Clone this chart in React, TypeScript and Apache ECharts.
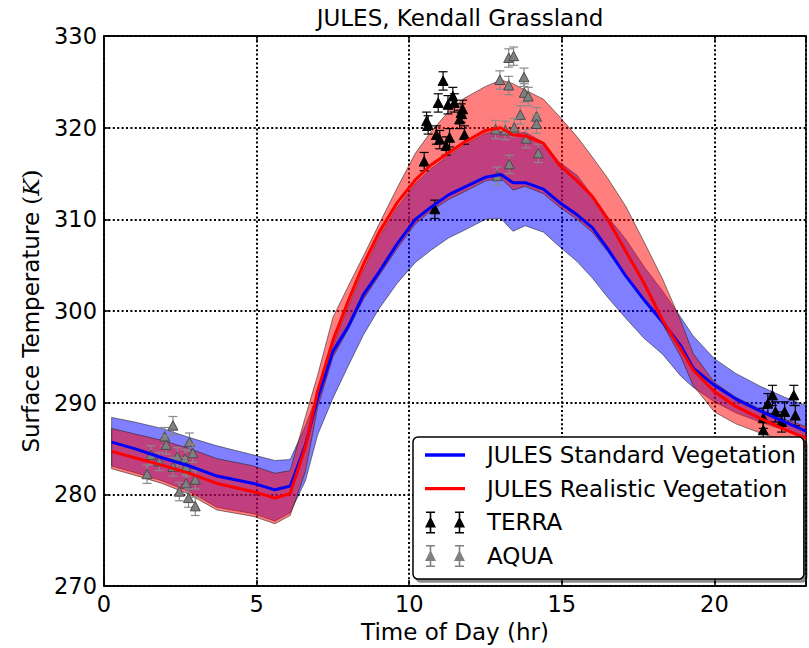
import React, { useEffect, useRef } from "react";
import * as echarts from "echarts";

// ---------- data ----------
const hours = [0.25, 1.0, 1.9, 2.8, 3.7, 4.9, 5.6, 6.1, 6.6, 7.0, 7.5, 8.0, 8.5, 9.0, 9.6, 10.2, 10.7, 11.3, 11.8, 12.5, 13.0, 13.4, 13.8, 14.4, 14.9, 15.5, 16.0, 16.5, 17.1, 17.7, 18.3, 18.9, 19.3, 20.0, 20.7, 21.5, 22.3, 23.0];

const standardMean = [285.7, 285.0, 284.0, 283.1, 282.0, 281.2, 280.5, 280.9, 285.4, 290.5, 295.6, 298.3, 301.8, 304.2, 307.3, 310.0, 311.3, 312.7, 313.5, 314.6, 314.9, 314.0, 314.0, 313.3, 311.9, 310.5, 309.1, 306.8, 303.8, 301.2, 298.8, 296.2, 293.8, 291.9, 290.4, 289.1, 287.9, 286.9];
const standardHigh = [288.4, 287.9, 287.2, 286.2, 285.3, 284.3, 283.7, 283.8, 287.5, 291.0, 296.2, 300.5, 304.5, 308.0, 311.3, 313.9, 315.5, 317.0, 318.1, 319.4, 319.6, 319.3, 319.5, 318.4, 316.3, 314.8, 312.6, 310.3, 307.8, 304.8, 302.2, 299.3, 297.3, 294.8, 293.2, 291.8, 290.6, 289.7];
const standardLow = [283.1, 282.4, 281.5, 280.3, 278.6, 277.9, 277.1, 278.0, 281.5, 286.5, 290.5, 294.0, 297.4, 300.2, 303.0, 305.3, 306.6, 308.0, 308.8, 310.0, 310.1, 308.7, 309.3, 308.6, 307.1, 305.4, 303.6, 301.5, 299.2, 297.0, 295.3, 292.9, 291.7, 290.1, 288.9, 287.9, 287.0, 286.3];

const realisticMean = [284.7, 284.0, 283.2, 282.3, 281.2, 280.3, 279.6, 280.1, 285.2, 291.3, 296.8, 301.1, 305.1, 308.5, 311.8, 314.3, 315.9, 317.3, 318.4, 319.7, 320.0, 319.2, 319.1, 318.3, 316.0, 314.2, 312.5, 310.0, 306.5, 303.0, 299.0, 295.8, 293.6, 291.2, 289.6, 288.3, 287.1, 286.1];
const realisticHigh = [287.2, 286.6, 285.9, 285.0, 283.9, 283.1, 282.3, 282.6, 288.5, 293.0, 299.3, 302.7, 306.0, 309.4, 313.4, 317.2, 319.5, 321.8, 323.2, 324.5, 325.2, 324.8, 324.1, 323.1, 321.3, 319.0, 316.8, 314.5, 311.4, 307.5, 303.5, 298.9, 295.4, 292.2, 290.6, 289.3, 288.2, 287.4];
const realisticLow = [282.8, 282.1, 281.2, 280.0, 278.3, 277.6, 276.8, 277.7, 282.5, 289.5, 295.0, 298.0, 301.3, 303.8, 306.8, 309.5, 310.9, 312.2, 313.0, 314.2, 314.5, 313.2, 313.6, 312.8, 311.4, 310.0, 308.6, 306.5, 303.8, 301.0, 298.6, 295.0, 291.9, 289.0, 287.7, 286.7, 285.8, 285.1];

const terraHour = [11.11, 10.95, 11.27, 11.43, 11.48, 11.70, 11.75, 11.65, 10.57, 10.62, 10.89, 11.00, 11.32, 11.21, 11.81, 10.49, 10.84, 21.90, 21.75, 22.00, 21.60, 22.30, 22.60, 21.60, 22.20, 22.65];
const terraTemp = [325.1, 322.7, 322.5, 323.4, 322.7, 321.6, 322.0, 320.9, 320.7, 320.3, 319.2, 318.7, 318.9, 318.0, 319.2, 316.3, 311.1, 290.8, 289.9, 289.0, 288.3, 289.0, 290.8, 287.0, 287.9, 288.6];
const terraErr = [1.0, 1.0, 1.0, 1.0, 1.0, 1.0, 1.0, 1.0, 1.0, 1.0, 1.0, 1.0, 1.0, 1.0, 1.0, 1.0, 1.0, 1.1, 1.1, 1.1, 1.1, 1.1, 1.1, 1.1, 1.1, 1.1];

const aquaHour = [1.41, 1.54, 1.81, 1.99, 2.04, 2.26, 2.40, 2.26, 2.47, 2.65, 2.69, 2.80, 2.69, 2.91, 2.77, 2.99, 2.99, 13.26, 13.42, 12.97, 13.26, 13.76, 13.77, 13.90, 13.64, 14.17, 14.17, 12.83, 13.15, 13.44, 13.83, 14.23, 13.28, 12.88];
const aquaTemp = [282.2, 284.3, 283.6, 286.3, 285.4, 287.5, 284.1, 283.0, 280.3, 283.9, 283.0, 285.7, 281.2, 284.5, 279.6, 281.6, 278.7, 327.6, 327.8, 325.2, 324.6, 325.5, 323.8, 323.4, 321.4, 321.2, 320.4, 319.8, 319.7, 320.0, 318.8, 317.2, 316.0, 314.7];
const aquaErr = [1.0, 1.0, 1.0, 1.0, 1.0, 1.0, 1.0, 1.0, 1.0, 1.0, 1.0, 1.0, 1.0, 1.0, 1.0, 1.0, 1.0, 1.0, 1.0, 1.0, 1.0, 1.0, 1.0, 1.0, 1.0, 1.0, 1.0, 1.0, 1.0, 1.0, 1.0, 1.0, 1.0, 1.0];

const xRange = [0, 23];
const xStep = 5;
const yRange = [270, 330];
const yStep = 10;

const titleText = "JULES, Kendall Grassland";
const xName = "Time of Day (hr)";
const nameStandard = "JULES Standard Vegetation";
const nameRealistic = "JULES Realistic Vegetation";
const nameTerra = "TERRA";
const nameAqua = "AQUA";

// ---------- helpers ----------
const FONT = "DejaVu Sans";

function errIconPath(): string {
  const one = (cx: number) =>
    `M${cx - 0.8},0 L${cx + 0.8},0 L${cx + 0.8},22 L${cx - 0.8},22 Z ` +
    `M${cx - 4.5},0 L${cx + 4.5},0 L${cx + 4.5},1.5 L${cx - 4.5},1.5 Z ` +
    `M${cx - 4.5},20.5 L${cx + 4.5},20.5 L${cx + 4.5},22 L${cx - 4.5},22 Z ` +
    `M${cx},5 L${cx + 5.5},16 L${cx - 5.5},16 Z `;
  return "path://" + one(5.5) + one(34.5);
}

const lineIconPath = "path://M0,0 L36,0 L36,3 L0,3 Z";

function bandSeries(name: string, lo: number[], hi: number[], fill: string) {
  return {
    type: "custom",
    name,
    silent: true,
    coordinateSystem: "cartesian2d",
    data: [[hours[0], lo[0]]],
    encode: { x: 0, y: 1 },
    renderItem: (_p: any, api: any) => {
      const pts: number[][] = [];
      for (let i = 0; i < hours.length; i++) pts.push(api.coord([hours[i], hi[i]]));
      for (let i = hours.length - 1; i >= 0; i--) pts.push(api.coord([hours[i], lo[i]]));
      return {
        type: "polygon",
        shape: { points: pts },
        style: { fill, stroke: "rgba(30,30,30,0.55)", lineWidth: 1 },
      };
    },
  };
}

function obsSeries(name: string, hs: number[], vs: number[], es: number[], fill: string, edge: string, bar: string) {
  return {
    type: "custom",
    name,
    coordinateSystem: "cartesian2d",
    data: hs.map((h, i) => [h, vs[i], es[i]]),
    encode: { x: 0, y: 1 },
    itemStyle: { color: fill },
    renderItem: (_p: any, api: any) => {
      const t = api.value(0);
      const v = api.value(1);
      const e = api.value(2);
      const c = api.coord([t, v]);
      const top = api.coord([t, v + e]);
      const bot = api.coord([t, v - e]);
      const x = c[0];
      const y = c[1];
      return {
        type: "group",
        children: [
          { type: "line", shape: { x1: x, y1: top[1], x2: x, y2: bot[1] }, style: { stroke: bar, lineWidth: 1.2 } },
          { type: "line", shape: { x1: x - 4.5, y1: top[1], x2: x + 4.5, y2: top[1] }, style: { stroke: bar, lineWidth: 1.2 } },
          { type: "line", shape: { x1: x - 4.5, y1: bot[1], x2: x + 4.5, y2: bot[1] }, style: { stroke: bar, lineWidth: 1.2 } },
          {
            type: "polygon",
            shape: { points: [[x, y - 5], [x + 5, y + 4.5], [x - 5, y + 4.5]] },
            style: { fill, stroke: edge, lineWidth: 1 },
          },
        ],
      };
    },
  };
}

export default function App() {
  const ref = useRef<HTMLDivElement>(null);

  useEffect(() => {
    if (!ref.current) return;
    const chart = echarts.init(ref.current, undefined, { renderer: "svg" });
    const gridLine = { show: true, lineStyle: { color: "#000", width: 2, type: [2, 2.4] } };
    const option: any = {
      animation: false,
      backgroundColor: "#fff",
      title: {
        text: titleText,
        left: 460,
        top: 6,
        textAlign: "center",
        padding: 0,
        textStyle: { fontFamily: FONT, fontSize: 23, fontWeight: "normal", color: "#000" },
      },
      grid: {
        left: 104,
        right: -7,
        top: 36,
        bottom: 60,
        show: true,
        borderColor: "#000",
        borderWidth: 1.5,
        backgroundColor: "transparent",
      },
      legend: {
        orient: "vertical",
        left: 413,
        top: 437,
        padding: [6, 8, 11, 12],
        itemWidth: 40,
        itemHeight: 22,
        itemGap: 9.7,
        backgroundColor: "#fff",
        borderColor: "#000",
        borderWidth: 1.5,
        borderRadius: 5,
        shadowColor: "rgba(0,0,0,0.45)",
        shadowOffsetX: 3,
        shadowOffsetY: 3,
        shadowBlur: 0,
        textStyle: { fontFamily: FONT, fontSize: 23, color: "#000", lineHeight: 24, padding: [0, 0, 0, 17] },
        data: [
          { name: nameStandard, icon: lineIconPath },
          { name: nameRealistic, icon: lineIconPath },
          { name: nameTerra, icon: errIconPath() },
          { name: nameAqua, icon: errIconPath() },
        ],
      },
      xAxis: [
        {
          type: "value",
          min: xRange[0],
          max: xRange[1],
          interval: xStep,
          name: xName,
          nameLocation: "middle",
          nameGap: 31,
          nameTextStyle: { fontFamily: FONT, fontSize: 23, color: "#000" },
          axisLine: { show: true, lineStyle: { color: "#000", width: 1.5 } },
          axisTick: { show: true, inside: true, length: 6, lineStyle: { color: "#000", width: 1.5 } },
          axisLabel: {
            fontFamily: FONT,
            fontSize: 22.5,
            color: "#000",
            margin: 6,
            formatter: (v: number) => (v % xStep === 0 ? String(v) : ""),
          },
          splitLine: gridLine,
        },
        {
          type: "value",
          position: "top",
          min: xRange[0],
          max: xRange[1],
          interval: xStep,
          axisLine: { show: true, lineStyle: { color: "#000", width: 1.5 } },
          axisTick: { show: true, inside: true, length: 6, lineStyle: { color: "#000", width: 1.5 } },
          axisLabel: { show: false },
          splitLine: { show: false },
        },
      ],
      yAxis: {
        type: "value",
        min: yRange[0],
        max: yRange[1],
        interval: yStep,
        name: "Surface Temperature {p|(}{k|K}{p|)}",
        nameLocation: "middle",
        nameGap: 62,
        nameRotate: 90,
        nameTextStyle: {
          fontFamily: FONT,
          fontSize: 23,
          color: "#000",
          rich: {
            p: { fontFamily: "DejaVu Serif", fontSize: 23, color: "#000" },
            k: { fontFamily: "DejaVu Serif", fontStyle: "italic", fontSize: 23, color: "#000" },
          },
        },
        axisLine: { show: true, lineStyle: { color: "#000", width: 1.5 } },
        axisTick: { show: true, inside: true, length: 6, lineStyle: { color: "#000", width: 1.5 } },
        axisLabel: { fontFamily: FONT, fontSize: 22.5, color: "#000", margin: 7 },
        splitLine: gridLine,
      },
      series: [
        bandSeries("standardBand", standardLow, standardHigh, "rgba(0,0,255,0.5)"),
        bandSeries("realisticBand", realisticLow, realisticHigh, "rgba(255,0,0,0.5)"),
        {
          type: "line",
          name: nameStandard,
          data: hours.map((h, i) => [h, standardMean[i]]),
          symbol: "none",
          color: "#0000ff",
          lineStyle: { color: "#0000ff", width: 3 },
        },
        {
          type: "line",
          name: nameRealistic,
          data: hours.map((h, i) => [h, realisticMean[i]]),
          symbol: "none",
          color: "#ff0000",
          lineStyle: { color: "#ff0000", width: 3 },
        },
        obsSeries(nameTerra, terraHour, terraTemp, terraErr, "#000000", "#000000", "#000000"),
        obsSeries(nameAqua, aquaHour, aquaTemp, aquaErr, "#808080", "#4a4a4a", "#8a8a8a"),
      ],
    };
    chart.setOption(option);
    return () => chart.dispose();
  }, []);

  return (
    <div
      ref={ref}
      style={{ position: "fixed", left: 0, top: 0, width: 809, height: 648, background: "#fff" }}
    />
  );
}
